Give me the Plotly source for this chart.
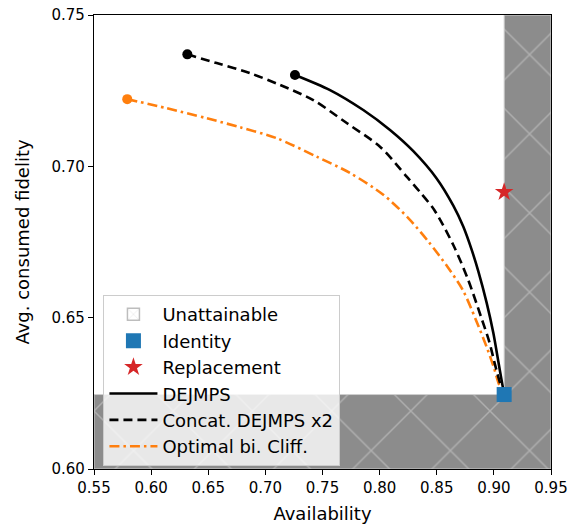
import plotly.graph_objects as go

# ---- data ----
x_range = [0.55, 0.95]
y_range = [0.60, 0.75]

identity_x = [0.909]
identity_y = [0.6246]

replacement_x = [0.909]
replacement_y = [0.6915]

dejmps_x = [0.7259, 0.7566, 0.7857, 0.8091, 0.8295, 0.8499, 0.8645, 0.8732,
            0.8806, 0.8864, 0.8937, 0.8995, 0.9039, 0.9077, 0.909]
dejmps_y = [0.7302, 0.7252, 0.7186, 0.7120, 0.7050, 0.6960, 0.6870, 0.6801,
            0.6724, 0.6653, 0.6549, 0.6450, 0.6355, 0.6273, 0.6246]

concat_x = [0.6317, 0.6574, 0.6865, 0.7128, 0.7419, 0.7712, 0.8003, 0.8237,
            0.8353, 0.8480, 0.8645, 0.8775, 0.8890, 0.8960, 0.9010, 0.9054,
            0.909]
concat_y = [0.7370, 0.7341, 0.7308, 0.7269, 0.7219, 0.7143, 0.7065, 0.6966,
            0.6915, 0.6855, 0.6740, 0.6625, 0.6500, 0.6420, 0.6345, 0.6284,
            0.6246]

optimal_x = [0.5791, 0.6136, 0.6486, 0.6778, 0.7099, 0.7449, 0.7741, 0.8032,
             0.8251, 0.8430, 0.8600, 0.8730, 0.8840, 0.8940, 0.9000, 0.9045,
             0.909]
optimal_y = [0.7222, 0.7192, 0.7159, 0.7129, 0.7093, 0.7032, 0.6978, 0.6906,
             0.6829, 0.6750, 0.6665, 0.6590, 0.6495, 0.6400, 0.6335, 0.6280,
             0.6246]

x_ticks = [0.55, 0.60, 0.65, 0.70, 0.75, 0.80, 0.85, 0.90, 0.95]
y_ticks = [0.60, 0.65, 0.70, 0.75]

FONT = "DejaVu Sans"
BLUE = "#1f77b4"
ORANGE = "#ff7f0e"
RED = "#d62728"

# unattainable region: availability above identity or fidelity below identity
ix, iy = identity_x[0], identity_y[0]
region_x = [x_range[0], x_range[1], x_range[1], ix, ix, x_range[0], x_range[0]]
region_y = [y_range[0], y_range[0], y_range[1], y_range[1], iy, iy, y_range[0]]

fig = go.Figure()

fig.add_trace(go.Scatter(
    x=region_x, y=region_y, mode="lines", fill="toself",
    fillcolor="#8c8c8c",
    fillpattern=dict(shape="x", bgcolor="#8c8c8c", fgcolor="#d2d2d2",
                     size=56, solidity=0.05),
    line=dict(color="#cfcfcf", width=1),
    showlegend=False, hoverinfo="skip"))

# legend entry for the unattainable region (hatched patch)
fig.add_trace(go.Bar(
    x=[None], y=[None], name="Unattainable", legendrank=1,
    marker=dict(color="white", line=dict(color="#bdbdbd", width=1.5),
                pattern=dict(shape="x", fgcolor="#c4c4c4", bgcolor="white",
                             size=12, solidity=0.12))))

spline = dict(shape="spline", smoothing=0.8)

fig.add_trace(go.Scatter(
    x=optimal_x, y=optimal_y, mode="lines",
    line=dict(color=ORANGE, width=2.6, dash="10px,4px,2.5px,4px", **spline),
    name="Optimal bi. Cliff.", legendrank=6))
fig.add_trace(go.Scatter(
    x=concat_x, y=concat_y, mode="lines",
    line=dict(color="black", width=2.6, dash="9px,5px", **spline),
    name="Concat. DEJMPS x2", legendrank=5))
fig.add_trace(go.Scatter(
    x=dejmps_x, y=dejmps_y, mode="lines",
    line=dict(color="black", width=2.6, **spline),
    name="DEJMPS", legendrank=4))

# starting points
fig.add_trace(go.Scatter(x=[optimal_x[0]], y=[optimal_y[0]], mode="markers",
                         marker=dict(color=ORANGE, size=10), showlegend=False))
fig.add_trace(go.Scatter(x=[concat_x[0]], y=[concat_y[0]], mode="markers",
                         marker=dict(color="black", size=10), showlegend=False))
fig.add_trace(go.Scatter(x=[dejmps_x[0]], y=[dejmps_y[0]], mode="markers",
                         marker=dict(color="black", size=10), showlegend=False))

fig.add_trace(go.Scatter(
    x=identity_x, y=identity_y, mode="markers",
    marker=dict(symbol="square", color=BLUE, size=15),
    name="Identity", legendrank=2))
fig.add_trace(go.Scatter(
    x=replacement_x, y=replacement_y, mode="markers",
    marker=dict(symbol="star", color=RED, size=14),
    name="Replacement", legendrank=3))

axis_common = dict(showgrid=False, zeroline=False, showline=True,
                   linecolor="black", linewidth=1.3, mirror=True,
                   ticks="outside", ticklen=5, tickwidth=1.2,
                   tickcolor="black", tickfont=dict(size=15, color="black"))

fig.update_xaxes(range=x_range, tickvals=x_ticks, tickformat=".2f",
                 title=dict(text="Availability", font=dict(size=18),
                            standoff=17),
                 **axis_common)
fig.update_yaxes(range=y_range, tickvals=y_ticks, tickformat=".2f",
                 title=dict(text="Avg. consumed fidelity", font=dict(size=18),
                            standoff=17),
                 **axis_common)

fig.update_layout(
    width=576, height=524,
    margin=dict(l=94, r=25, t=15, b=55, autoexpand=False),
    paper_bgcolor="white", plot_bgcolor="white",
    font=dict(family=FONT, color="black"),
    showlegend=True,
    legend=dict(x=0.02, y=0.007, xanchor="left", yanchor="bottom",
                bgcolor="rgba(255,255,255,0.8)", bordercolor="#cccccc",
                borderwidth=1.3, font=dict(size=18, color="black"),
                itemwidth=48,
                traceorder="normal", tracegroupgap=0),
)

fig.write_html("out.html")
